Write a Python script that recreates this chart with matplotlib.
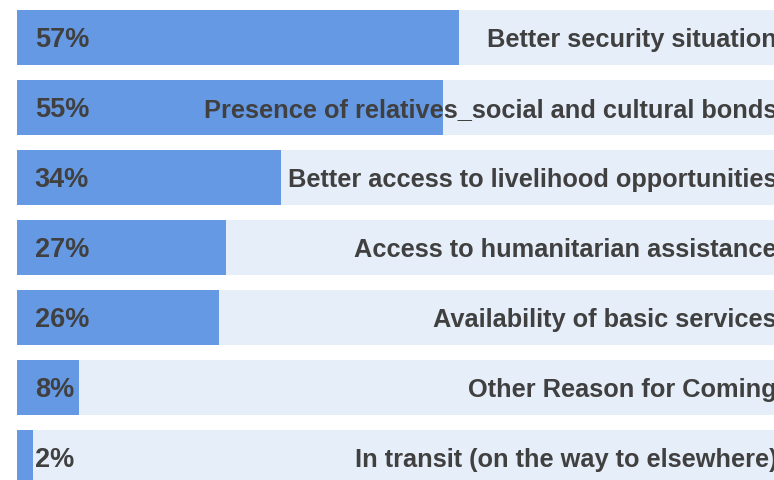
import matplotlib.pyplot as plt
import matplotlib.transforms as mtransforms

reasons = [
    "Better security situation",
    "Presence of relatives_social and cultural bonds",
    "Better access to livelihood opportunities",
    "Access to humanitarian assistance",
    "Availability of basic services",
    "Other Reason for Coming",
    "In transit (on the way to elsewhere)",
]
shares = [57, 55, 34, 27, 26, 8, 2]

bar_blue = "#6699E3"
track = "#E6EEF9"
ink = "#404040"

plt.rcParams['font.family'] = ['Liberation Sans', 'DejaVu Sans']

fig = plt.figure(figsize=(7.74, 4.8), dpi=100)
ax = fig.add_axes([0, 0, 1, 1])

ypos = list(range(len(reasons)))
ax.barh(ypos, [100] * len(reasons), height=0.786, color=track, left=0)
ax.barh(ypos, shares, height=0.786, color=bar_blue, left=0)

# value on the left, reason right-aligned at the edge
trans = mtransforms.blended_transform_factory(ax.transAxes, ax.transData)
for y, v, name in zip(ypos, shares, reasons):
    ax.text(2.3, y + 0.03, f"{v}%", ha="left", va="center", fontsize=19.5,
            fontweight="bold", color=ink)
    ax.text(1.004, y + 0.03, name, transform=trans, ha="right", va="center",
            fontsize=18.3, fontweight="bold", color=ink)

ax.set_xlim(-17 / 7.75, 757 / 7.75)
ax.set_ylim(6 + 22.5 / 70, -37.5 / 70)
ax.axis("off")

fig.savefig("out.png", dpi=100, facecolor="white")
